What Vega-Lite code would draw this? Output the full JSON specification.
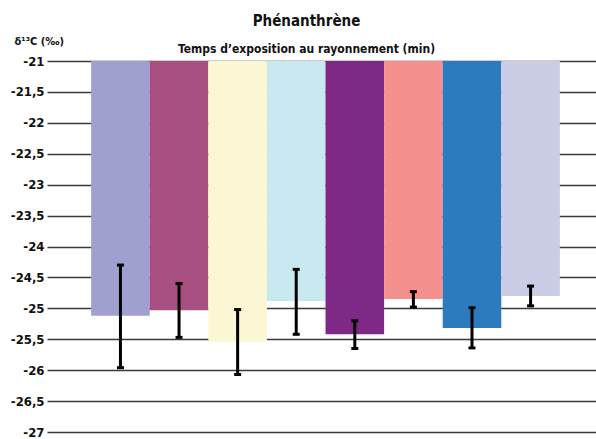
{
  "$schema": "https://vega.github.io/schema/vega-lite/v6.json",
  "width": 549,
  "height": 371,
  "autosize": {"type": "none"},
  "padding": {"left": 47, "top": 61, "right": 0, "bottom": 7},
  "title": {
    "text": "Phénanthrène",
    "subtitle": "Temps d’exposition au rayonnement (min)",
    "anchor": "middle",
    "frame": "group",
    "dx": -15,
    "offset": -20,
    "font": "DejaVu Sans Condensed",
    "fontSize": 15,
    "fontWeight": "bold",
    "color": "#111111",
    "subtitleFont": "DejaVu Sans Condensed",
    "subtitleFontSize": 12,
    "subtitleFontWeight": "bold",
    "subtitleColor": "#111111",
    "subtitlePadding": 15
  },
  "data": {
    "values": [
      {"cat": "t1", "value": -25.12, "lo": -25.96, "hi": -24.30},
      {"cat": "t2", "value": -25.03, "lo": -25.47, "hi": -24.60},
      {"cat": "t3", "value": -25.54, "lo": -26.07, "hi": -25.02},
      {"cat": "t4", "value": -24.88, "lo": -25.42, "hi": -24.37},
      {"cat": "t5", "value": -25.42, "lo": -25.65, "hi": -25.20},
      {"cat": "t6", "value": -24.85, "lo": -24.98, "hi": -24.73},
      {"cat": "t7", "value": -25.32, "lo": -25.64, "hi": -24.99},
      {"cat": "t8", "value": -24.80, "lo": -24.96, "hi": -24.64}
    ]
  },
  "encoding": {
    "x": {
      "field": "cat",
      "type": "nominal",
      "sort": null,
      "axis": null,
      "scale": {"paddingInner": 0, "paddingOuter": 0.685, "align": 0.55}
    }
  },
  "layer": [
    {
      "mark": {"type": "bar"},
      "encoding": {
        "y": {
          "field": "value",
          "type": "quantitative",
          "scale": {"domain": [-27, -21], "nice": false, "zero": false},
          "axis": {
            "values": [-27, -26.5, -26, -25.5, -25, -24.5, -24, -23.5, -23, -22.5, -22, -21.5, -21],
            "labelExpr": "replace(replace(format(datum.value, '.1~f'), '.', ','), '−', '-')",
            "labelOverlap": false,
            "title": "δ¹³C (‰)"
          }
        },
        "y2": {"datum": -21},
        "color": {
          "field": "cat",
          "type": "nominal",
          "sort": null,
          "legend": null,
          "scale": {
            "domain": ["t1", "t2", "t3", "t4", "t5", "t6", "t7", "t8"],
            "range": ["#9fa0cf", "#a64f80", "#fbf7d4", "#c9e9f0", "#7e2985", "#f4918f", "#2c7bbf", "#cbcce6"]
          }
        }
      }
    },
    {
      "mark": {"type": "rule", "color": "#000000", "strokeWidth": 3},
      "encoding": {
        "y": {
          "field": "lo",
          "type": "quantitative",
          "axis": {
            "values": [-27, -26.5, -26, -25.5, -25, -24.5, -24, -23.5, -23, -22.5, -22, -21.5, -21],
            "labelExpr": "replace(replace(format(datum.value, '.1~f'), '.', ','), '−', '-')",
            "labelOverlap": false,
            "title": "δ¹³C (‰)"
          }
        },
        "y2": {"field": "hi"}
      }
    },
    {
      "mark": {"type": "tick", "color": "#000000", "size": 7, "thickness": 3, "opacity": 1},
      "encoding": {
        "y": {
          "field": "lo",
          "type": "quantitative",
          "axis": {
            "values": [-27, -26.5, -26, -25.5, -25, -24.5, -24, -23.5, -23, -22.5, -22, -21.5, -21],
            "labelExpr": "replace(replace(format(datum.value, '.1~f'), '.', ','), '−', '-')",
            "labelOverlap": false,
            "title": "δ¹³C (‰)"
          }
        }
      }
    },
    {
      "mark": {"type": "tick", "color": "#000000", "size": 7, "thickness": 3, "opacity": 1},
      "encoding": {
        "y": {
          "field": "hi",
          "type": "quantitative",
          "axis": {
            "values": [-27, -26.5, -26, -25.5, -25, -24.5, -24, -23.5, -23, -22.5, -22, -21.5, -21],
            "labelExpr": "replace(replace(format(datum.value, '.1~f'), '.', ','), '−', '-')",
            "labelOverlap": false,
            "title": "δ¹³C (‰)"
          }
        }
      }
    }
  ],
  "config": {
    "view": {"stroke": null},
    "axisY": {
      "titleAngle": 0,
      "titleAlign": "left",
      "titleBaseline": "alphabetic",
      "titleX": -33,
      "titleY": -17,
      "titleFont": "DejaVu Sans Condensed",
      "titleFontSize": 11,
      "titleFontWeight": "bold",
      "titleColor": "#111111",
      "labelFont": "DejaVu Sans Condensed",
      "labelFontSize": 13,
      "labelFontWeight": "bold",
      "labelColor": "#111111",
      "labelPadding": 3,
      "domain": false,
      "ticks": false,
      "grid": true,
      "gridColor": "#3a3a3a",
      "gridWidth": 1.5,
      "gridOpacity": 1
    }
  }
}
